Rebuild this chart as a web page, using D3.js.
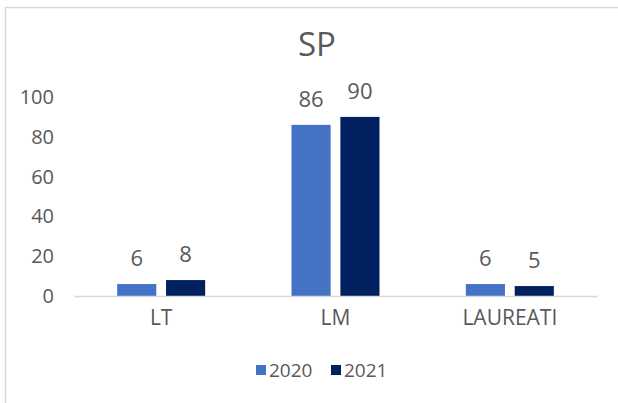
<!DOCTYPE html>
<html>
<head>
<meta charset="utf-8">
<script src="https://cdn.jsdelivr.net/npm/d3@7"></script>
<style>
  html, body { margin: 0; padding: 0; background: #fff; }
  svg text { font-family: "Open Sans", sans-serif; fill: #595959; }
</style>
</head>
<body>
<div id="chart"></div>
<script>
  // ---------- Data ----------
  const categories = ["LT", "LM", "LAUREATI"];
  const seriesNames = ["2020", "2021"];
  const values2020 = [6, 86, 6];
  const values2021 = [8, 90, 5];
  const yTicks = [0, 20, 40, 60, 80, 100];
  const title = "SP";

  const seriesColors = { "2020": "#4472C4", "2021": "#002060" };

  const W = 618, H = 403;
  const plot = { left: 74, right: 597, top: 97, bottom: 296 };

  const rows = categories.map((c, i) => ({ cat: c, "2020": values2020[i], "2021": values2021[i] }));

  const svg = d3.select("#chart").append("svg")
    .attr("width", W)
    .attr("height", H);

  // chart frame (only left/top edges visible in crop)
  svg.append("rect")
    .attr("x", 5.5).attr("y", 7.5)
    .attr("width", W + 10).attr("height", H + 10)
    .attr("fill", "#fff")
    .attr("stroke", "#d9d9d9")
    .attr("stroke-width", 1.5);

  // title
  svg.append("text")
    .attr("x", 317)
    .attr("y", 56)
    .attr("text-anchor", "middle")
    .style("font-size", "33px")
    .text(title);

  // scales
  const x0 = d3.scaleBand().domain(categories).range([plot.left, plot.right]);
  const groupW = 88;
  const x1 = d3.scaleBand().domain(seriesNames)
    .range([(x0.bandwidth() - groupW) / 2, (x0.bandwidth() + groupW) / 2])
    .paddingInner(0.2);
  const y = d3.scaleLinear().domain([0, 100]).range([plot.bottom, plot.top]);

  // y axis labels (no line, no ticks)
  const yAxis = svg.append("g")
    .attr("transform", `translate(${plot.left},0)`)
    .call(d3.axisLeft(y).tickValues(yTicks).tickSize(0).tickPadding(20));
  yAxis.select(".domain").remove();
  yAxis.selectAll("text").style("font-size", "20px").attr("fill", null);

  // bars
  const groups = svg.append("g").selectAll("g.group")
    .data(rows)
    .join("g")
    .attr("class", "group")
    .attr("transform", d => `translate(${x0(d.cat)},0)`);

  groups.selectAll("rect")
    .data(d => seriesNames.map(s => ({ s, v: d[s] })))
    .join("rect")
    .attr("x", d => x1(d.s))
    .attr("width", x1.bandwidth())
    .attr("y", d => y(d.v))
    .attr("height", d => y(0) - y(d.v))
    .attr("fill", d => seriesColors[d.s]);

  // data labels
  groups.selectAll("text.lbl")
    .data(d => seriesNames.map(s => ({ s, v: d[s] })))
    .join("text")
    .attr("class", "lbl")
    .attr("x", d => x1(d.s) + x1.bandwidth() / 2)
    .attr("y", d => y(d.v) - 18)
    .attr("text-anchor", "middle")
    .style("font-size", "22px")
    .text(d => d.v);

  // x axis
  const xAxis = svg.append("g")
    .attr("transform", `translate(0,${plot.bottom})`)
    .call(d3.axisBottom(x0).tickSize(0).tickPadding(14));
  xAxis.select(".domain").attr("stroke", "#d9d9d9").attr("stroke-width", 1.5);
  xAxis.selectAll("text").style("font-size", "21px").attr("fill", null);

  // legend
  const legend = svg.append("g").attr("transform", "translate(256,365)");
  const legendX = [0, 75];
  const item = legend.selectAll("g.item")
    .data(seriesNames)
    .join("g")
    .attr("class", "item")
    .attr("transform", (d, i) => `translate(${legendX[i]},0)`);
  item.append("rect")
    .attr("width", 10).attr("height", 10)
    .attr("fill", d => seriesColors[d]);
  item.append("text")
    .attr("x", 13)
    .attr("y", 12)
    .style("font-size", "19px")
    .text(d => d);
</script>
</body>
</html>
